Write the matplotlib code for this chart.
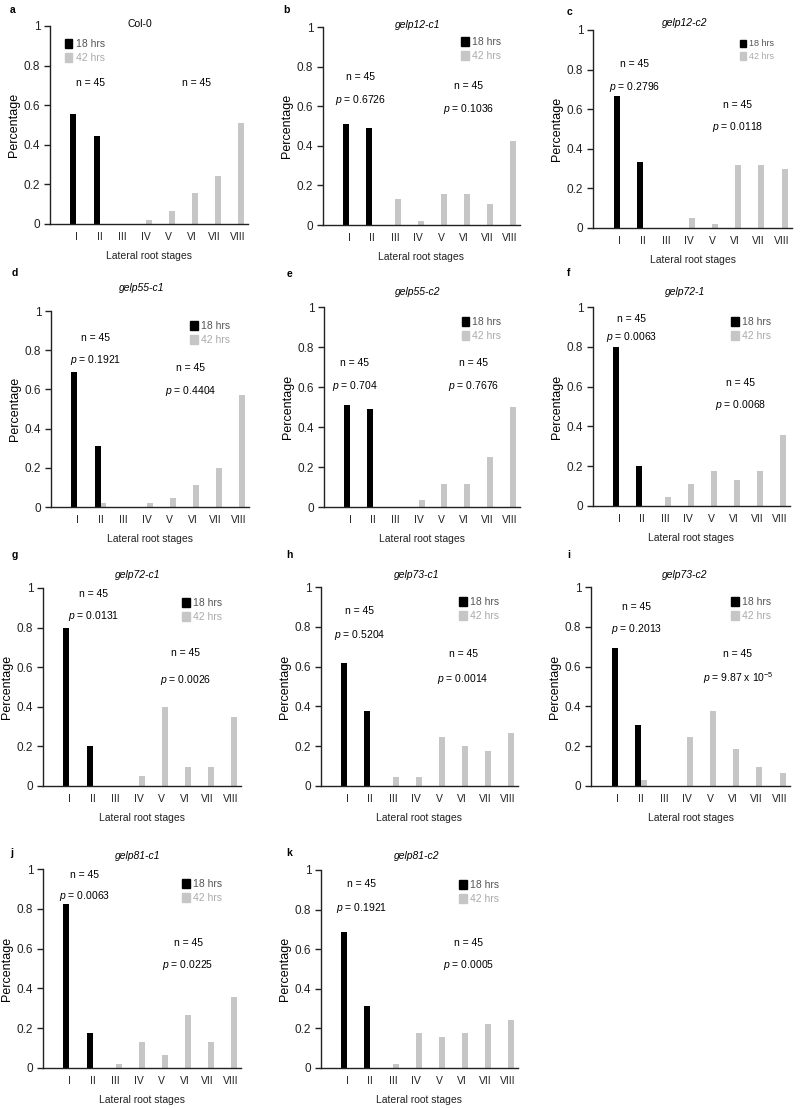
import matplotlib.pyplot as plt
from matplotlib.patches import Patch
import numpy as np

plt.rcParams['font.family'] = ['Liberation Sans', 'DejaVu Sans']
plt.rcParams['mathtext.fontset'] = 'custom'
plt.rcParams['mathtext.rm'] = 'Liberation Sans'
plt.rcParams['mathtext.it'] = 'Liberation Sans:italic'

stages = ['I', 'II', 'III', 'IV', 'V', 'VI', 'VII', 'VIII']

# fraction of lateral roots per stage, 18 hrs and 42 hrs
col0_18 = [0.556, 0.444, 0, 0, 0, 0, 0, 0]
col0_42 = [0, 0, 0, 0.022, 0.067, 0.156, 0.244, 0.511]
g12c1_18 = [0.511, 0.489, 0, 0, 0, 0, 0, 0]
g12c1_42 = [0, 0, 0.133, 0.022, 0.156, 0.156, 0.107, 0.422]
g12c2_18 = [0.667, 0.333, 0, 0, 0, 0, 0, 0]
g12c2_42 = [0, 0, 0, 0.049, 0.02, 0.316, 0.316, 0.299]
g55c1_18 = [0.689, 0.311, 0, 0, 0, 0, 0, 0]
g55c1_42 = [0, 0.022, 0, 0.022, 0.044, 0.111, 0.197, 0.573]
g55c2_18 = [0.511, 0.489, 0, 0, 0, 0, 0, 0]
g55c2_42 = [0, 0, 0, 0.033, 0.114, 0.114, 0.25, 0.5]
g72_1_18 = [0.8, 0.2, 0, 0, 0, 0, 0, 0]
g72_1_42 = [0, 0, 0.044, 0.111, 0.178, 0.133, 0.178, 0.356]
g72c1_18 = [0.8, 0.2, 0, 0, 0, 0, 0, 0]
g72c1_42 = [0, 0, 0, 0.05, 0.4, 0.095, 0.095, 0.35]
g73c1_18 = [0.62, 0.375, 0, 0, 0, 0, 0, 0]
g73c1_42 = [0, 0, 0.044, 0.044, 0.244, 0.2, 0.178, 0.267]
g73c2_18 = [0.694, 0.306, 0, 0, 0, 0, 0, 0]
g73c2_42 = [0, 0.03, 0, 0.245, 0.375, 0.185, 0.095, 0.065]
g81c1_18 = [0.822, 0.178, 0, 0, 0, 0, 0, 0]
g81c1_42 = [0, 0, 0.022, 0.133, 0.067, 0.267, 0.133, 0.356]
g81c2_18 = [0.689, 0.311, 0, 0, 0, 0, 0, 0]
g81c2_42 = [0, 0, 0.022, 0.178, 0.156, 0.178, 0.222, 0.244]

letters = ['a', 'b', 'c', 'd', 'e', 'f', 'g', 'h', 'i', 'j', 'k']
titles = ['Col-0', 'gelp12-c1', 'gelp12-c2', 'gelp55-c1', 'gelp55-c2', 'gelp72-1',
          'gelp72-c1', 'gelp73-c1', 'gelp73-c2', 'gelp81-c1', 'gelp81-c2']
data18 = [col0_18, g12c1_18, g12c2_18, g55c1_18, g55c2_18, g72_1_18,
          g72c1_18, g73c1_18, g73c2_18, g81c1_18, g81c2_18]
data42 = [col0_42, g12c1_42, g12c2_42, g55c1_42, g55c2_42, g72_1_42,
          g72c1_42, g73c1_42, g73c2_42, g81c1_42, g81c2_42]
p18 = [None, '0.6726', '0.2796', '0.1921', '0.704', '0.0063',
       '0.0131', '0.5204', '0.2013', '0.0063', '0.1921']
p42 = [None, '0.1036', '0.0118', '0.4404', '0.7676', '0.0068',
       '0.0026', '0.0014', r'9.87 x 10$^{-5}$', '0.0225', '0.0005']

# layout in pixels: axes left, right, top, bottom
boxes = [(50, 248, 26, 224), (323, 520, 27, 225), (593, 792, 30, 228),
         (51, 249, 311, 507), (324, 520, 307, 507), (593, 790, 307, 506),
         (43, 241, 588, 786), (321, 518, 587, 786), (591, 790, 587, 786),
         (43, 241, 869, 1068), (321, 518, 870, 1068)]
letter_pos = [(10, 10), (283, 10), (567, 12), (12, 273), (287, 274), (567, 273),
              (12, 555), (286, 555), (567, 555), (10, 853), (286, 853)]
title_pos = [(140, 24), (418, 25), (685, 23), (142, 288), (418, 292), (685, 292),
             (138, 575), (417, 575), (685, 575), (138, 856), (417, 856)]
# (x, y_n, y_p) for n/p texts of the 18 hrs group and the 42 hrs group, in data units
note_left = [(0.6, 0.71, 0.59), (0.5, 0.75, 0.63), (0.65, 0.83, 0.71),
             (0.77, 0.86, 0.75), (0.2, 0.72, 0.605), (0.55, 0.94, 0.85),
             (1.05, 0.97, 0.86), (0.55, 0.88, 0.76), (0.8, 0.9, 0.79),
             (0.65, 0.97, 0.865), (0.6, 0.93, 0.81)]
note_right = [(5.2, 0.71, 0.59), (5.2, 0.70, 0.585), (5.1, 0.62, 0.51),
              (4.9, 0.71, 0.59), (5.4, 0.72, 0.605), (5.3, 0.62, 0.51),
              (5.05, 0.67, 0.535), (5.05, 0.665, 0.54), (5.2, 0.665, 0.54),
              (5.15, 0.63, 0.52), (5.3, 0.63, 0.52)]

W, H = 800, 1108
fig = plt.figure(figsize=(W / 100, H / 100), dpi=100)

x = np.arange(len(stages))
bw = 0.26

for k in range(len(letters)):
    l, r, t, b = boxes[k]
    ax = fig.add_axes([l / W, 1 - b / H, (r - l) / W, (b - t) / H])
    ax.bar(x - bw / 2, data18[k], width=bw, color='black', label='18 hrs')
    ax.bar(x + bw / 2, data42[k], width=bw, color='#c6c6c6', label='42 hrs')
    ax.set_xlim(-1.15, 7.45)
    ax.set_ylim(0, 1)
    ax.set_yticks([0, 0.2, 0.4, 0.6, 0.8, 1])
    ax.set_yticklabels(['0', '0.2', '0.4', '0.6', '0.8', '1'])
    ax.set_xticks(x)
    ax.set_xticklabels(stages)
    ax.tick_params(axis='x', length=0, pad=6, labelsize=7.5, colors='#222222')
    ax.tick_params(axis='y', length=4, width=1, pad=3, labelsize=8.5, colors='#222222')
    for s in ['top', 'right']:
        ax.spines[s].set_visible(False)
    for s in ['left', 'bottom']:
        ax.spines[s].set_color('#222222')
        ax.spines[s].set_linewidth(1)
    ax.set_ylabel('Percentage', fontsize=9, labelpad=3)
    ax.set_xlabel('Lateral root stages', fontsize=7.5, labelpad=6, color='#222222')

    handles = [Patch(color='black'), Patch(color='#c6c6c6')]
    if k == 0:
        ax.legend(handles, ['18 hrs', '42 hrs'], loc='upper left', bbox_to_anchor=(0.05, 0.96),
                  frameon=False, fontsize=7.5, handlelength=0.7, handleheight=0.9,
                  handletextpad=0.3, labelspacing=0.4, borderpad=0,
                  labelcolor=['#555555', '#aaaaaa'])
    else:
        fs = 6.5 if k == 2 else 7.5
        ax.legend(handles, ['18 hrs', '42 hrs'], loc='upper right', bbox_to_anchor=(0.93, 0.975),
                  frameon=False, fontsize=fs, handlelength=0.7, handleheight=0.9,
                  handletextpad=0.3, labelspacing=0.4, borderpad=0,
                  labelcolor=['#555555', '#aaaaaa'])

    xl, yn, yp = note_left[k]
    xr, yn2, yp2 = note_right[k]
    ax.text(xl, yn, 'n = 45', ha='center', va='center', fontsize=7.5)
    ax.text(xr, yn2, 'n = 45', ha='center', va='center', fontsize=7.5)
    if p18[k] is not None:
        ax.text(xl, yp, '$p$ = ' + p18[k], ha='center', va='center', fontsize=7.5)
        ax.text(xr, yp2, '$p$ = ' + p42[k], ha='center', va='center', fontsize=7.5)

    lx, ly = letter_pos[k]
    fig.text(lx / W, 1 - ly / H, letters[k], fontsize=7.5, fontweight='bold',
             ha='left', va='center')
    tx, ty = title_pos[k]
    fig.text(tx / W, 1 - ty / H, titles[k], fontsize=7.5, ha='center', va='center',
             style='normal' if k == 0 else 'italic')

fig.savefig('out.png', dpi=100)
